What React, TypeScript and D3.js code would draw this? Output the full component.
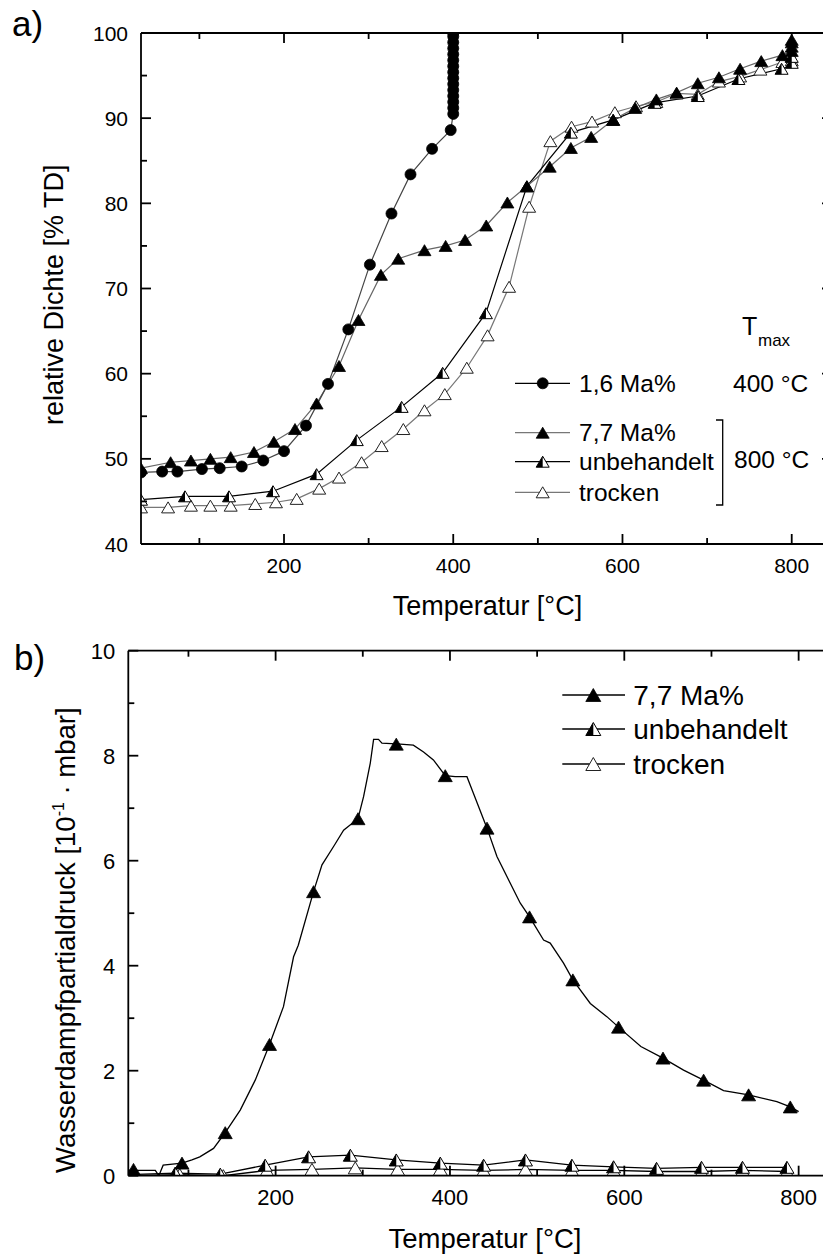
import React from 'react';
import * as d3 from 'd3';

const FONT = '"Liberation Sans", Arial, Helvetica, sans-serif';

type P = [number, number];

// ---------- Panel a: relative density [% TD] vs temperature [°C] ----------
const densMa16: P[] = [
  [31, 48.4], [56, 48.5], [74, 48.5], [103, 48.8], [124, 48.9], [150, 49.1], [175.5, 49.8],
  [200, 50.9], [226, 53.9], [252, 58.8], [276, 65.2], [301.5, 72.8], [327, 78.8], [349.5, 83.4],
  [375, 86.4], [397, 88.6], [400, 90.5], [400, 91.2], [400, 91.9], [400, 92.6], [400, 93.3],
  [400, 94.0], [400, 94.7], [400, 95.4], [400, 96.1], [400, 96.8], [400, 97.5], [400, 98.2],
  [400, 98.9], [400, 99.6], [400, 100],
];
const densMa77: P[] = [
  [31, 48.9], [66, 49.6], [90, 49.8], [113, 50.0], [137, 50.2], [164.5, 50.8], [188, 52.0],
  [213, 53.5], [238.5, 56.5], [265, 60.9], [288, 66.3], [314.5, 71.6], [335, 73.5], [366, 74.5],
  [391, 75.0], [414, 75.7], [439, 77.4], [464, 80.1], [487, 82.0], [514, 84.3], [539, 86.5],
  [563, 87.8], [589, 89.8], [615, 91.2], [640, 92.2], [664, 93.0], [689, 94.1], [714, 94.8],
  [739, 95.8], [764, 96.7], [789, 97.4], [800, 97.9], [800, 98.4], [800, 98.9], [800, 99.2],
];
const densUnbeh: P[] = [
  [31, 45.2], [83, 45.6], [135, 45.6], [187, 46.2], [238.5, 48.2], [286, 52.2], [339, 56.1],
  [387.5, 60.1], [438.6, 67.1], [487, 82.0], [539, 88.3], [589, 89.8], [638, 91.8], [689, 92.6],
  [737, 94.6], [788, 95.8], [800, 96.5], [800, 97.2],
];
const densTrocken: P[] = [
  [31, 44.3], [63, 44.3], [90, 44.5], [113, 44.5], [137, 44.5], [166, 44.7], [190.5, 44.9],
  [215, 45.3], [241.6, 46.5], [265, 47.8], [291.7, 49.6], [315.4, 51.5], [341, 53.5], [366, 55.7],
  [390, 57.6], [416, 60.7], [440.6, 64.5], [466, 70.2], [489.7, 79.6], [514.8, 87.3], [539.8, 89.0],
  [564, 89.6], [591, 90.7], [616, 91.4], [640, 91.9], [664, 92.9], [689, 92.8], [714, 94.3],
  [739, 94.9], [763, 95.7], [789, 96.6], [800, 96.8],
];

// ---------- Panel b: water vapour partial pressure [10^-1 mbar] ----------
const pressMa77Line: P[] = [
  [31, 0.1], [62, 0.1], [66, 0], [71, 0.2], [92.6, 0.24], [104, 0.3], [113, 0.36], [128.8, 0.52],
  [142.2, 0.82], [159.4, 1.25], [176.6, 1.82], [193, 2.5], [209, 3.22], [220.6, 4.17], [226, 4.39],
  [243.5, 5.41], [253.2, 5.92], [266.5, 6.27], [278, 6.58], [294.5, 6.8], [300.9, 7.22],
  [308.6, 7.86], [312.4, 8.31], [318, 8.31], [322, 8.24], [343, 8.22], [358, 8.2], [369.7, 8.07],
  [381, 7.92], [394.6, 7.62], [406, 7.6], [419.5, 7.6], [427, 7.28], [442.5, 6.62], [453.9, 6.08],
  [469.2, 5.57], [480.7, 5.19], [491.3, 4.93], [507.4, 4.49], [515, 4.43], [530.3, 4.05],
  [541, 3.73], [561, 3.28], [580, 3.03], [593.4, 2.83], [619, 2.46], [644.4, 2.24], [668, 2.01],
  [691, 1.82], [713.9, 1.62], [742.6, 1.54], [775, 1.41], [790.4, 1.31], [800, 1.22],
];
const pressMa77Markers: P[] = [
  [37, 0.12], [92.6, 0.24], [142.2, 0.82], [193, 2.5], [243.5, 5.41], [294.5, 6.8], [338.4, 8.22],
  [394.6, 7.62], [442.5, 6.62], [491.3, 4.93], [541, 3.73], [593.4, 2.83], [644.4, 2.24],
  [691, 1.82], [742.6, 1.54], [790.4, 1.31],
];
const pressUnbeh: P[] = [
  [31, 0.02], [84.8, 0.05], [136.5, 0.03], [188, 0.2], [237.8, 0.36], [285.7, 0.39], [338.4, 0.3],
  [388.9, 0.24], [438.6, 0.2], [486.6, 0.3], [539.9, 0.2], [587.7, 0.17], [637, 0.14],
  [688.6, 0.16], [735.6, 0.16], [786.6, 0.16],
];
const pressTrocken: P[] = [
  [31, 0], [90, 0.02], [140, 0.0], [190, 0.1], [241.7, 0.12], [291.4, 0.15], [340, 0.12],
  [389, 0.12], [438.6, 0.1], [486.6, 0.12], [539.9, 0.1], [587.7, 0.1], [637, 0.08],
  [688.6, 0.08], [735.6, 0.1], [786.6, 0.08],
];

// ---------- ticks & labels ----------
const xMajor = [200, 400, 600, 800];
const xMinor = [100, 300, 500, 700];
const yaMajor = [40, 50, 60, 70, 80, 90, 100];
const yaMinor = [45, 55, 65, 75, 85, 95];
const ybMajor = [0, 2, 4, 6, 8, 10];
const ybMinor = [1, 3, 5, 7, 9];

const legendA = ['1,6 Ma%', '7,7 Ma%', 'unbehandelt', 'trocken'];
const legendB = ['7,7 Ma%', 'unbehandelt', 'trocken'];

type MarkerKind = 'circle' | 'triFilled' | 'triHalf' | 'triOpen';

function Marker({ kind, x, y, w, h }: { kind: MarkerKind; x: number; y: number; w: number; h: number }) {
  if (kind === 'circle') {
    return <circle cx={x} cy={y} r={w / 2} fill="#000" stroke="#000" strokeWidth={0.8} />;
  }
  const tri = `M${x},${y - h / 2} L${x - w / 2},${y + h / 2} L${x + w / 2},${y + h / 2} Z`;
  if (kind === 'triFilled') return <path d={tri} fill="#000" stroke="#000" strokeWidth={0.8} />;
  if (kind === 'triOpen') return <path d={tri} fill="#fff" stroke="#222" strokeWidth={1} />;
  const left = `M${x},${y - h / 2} L${x - w / 2},${y + h / 2} L${x},${y + h / 2} Z`;
  return (
    <g>
      <path d={tri} fill="#fff" stroke="#000" strokeWidth={1} />
      <path d={left} fill="#000" stroke="none" />
    </g>
  );
}

function Frame({ x, y, xTicksMajor, xTicksMinor, yTicksMajor, yTicksMinor, left, right, top, bottom, tickFs, labelDx, labelDy, xlabY }: any) {
  const els: any[] = [];
  const sw = 1.8;
  // left, top and bottom axis lines (right axis lies beyond the page edge)
  els.push(<line key="axL" x1={left} x2={left} y1={top} y2={bottom} stroke="#000" strokeWidth={sw} />);
  els.push(<line key="axT" x1={left} x2={right} y1={top} y2={top} stroke="#000" strokeWidth={sw} />);
  els.push(<line key="axB" x1={left} x2={right} y1={bottom} y2={bottom} stroke="#000" strokeWidth={sw} />);
  xTicksMajor.forEach((t: number) => {
    const px = x(t);
    els.push(<line key={'xb' + t} x1={px} x2={px} y1={bottom} y2={bottom - 10} stroke="#000" strokeWidth={sw} />);
    els.push(<line key={'xt' + t} x1={px} x2={px} y1={top} y2={top + 10} stroke="#000" strokeWidth={sw} />);
    els.push(<text key={'xl' + t} x={px} y={xlabY} fontSize={tickFs} textAnchor="middle" fontFamily={FONT}>{t}</text>);
  });
  xTicksMinor.forEach((t: number) => {
    const px = x(t);
    els.push(<line key={'xbm' + t} x1={px} x2={px} y1={bottom} y2={bottom - 6} stroke="#000" strokeWidth={sw} />);
    els.push(<line key={'xtm' + t} x1={px} x2={px} y1={top} y2={top + 6} stroke="#000" strokeWidth={sw} />);
  });
  yTicksMajor.forEach((t: number) => {
    const py = y(t);
    els.push(<line key={'yl' + t} x1={left} x2={left + 10} y1={py} y2={py} stroke="#000" strokeWidth={sw} />);
    els.push(<line key={'yr' + t} x1={right} x2={right - 10} y1={py} y2={py} stroke="#000" strokeWidth={sw} />);
    els.push(<text key={'ylab' + t} x={left - labelDx} y={py + labelDy} fontSize={tickFs} textAnchor="end" fontFamily={FONT}>{t}</text>);
  });
  yTicksMinor.forEach((t: number) => {
    const py = y(t);
    els.push(<line key={'ylm' + t} x1={left} x2={left + 6} y1={py} y2={py} stroke="#000" strokeWidth={sw} />);
  });
  return <g>{els}</g>;
}

export default function App() {
  // ---- panel a scales ----
  const xa = d3.scaleLinear().domain([31, 847.6]).range([141, 832]);
  const ya = d3.scaleLinear().domain([40, 100]).range([544, 33]);
  const la = d3.line<P>().x((d) => xa(d[0])).y((d) => ya(d[1]));
  const aL = 141, aR = 832, aT = 33, aB = 544;

  // ---- panel b scales ----
  const xb = d3.scaleLinear().domain([31, 850]).range([128.3, 128.3 + 819 * 0.8717]);
  const yb = d3.scaleLinear().domain([0, 10]).range([1175.7, 650.7]);
  const lb = d3.line<P>().x((d) => xb(d[0])).y((d) => yb(d[1]));
  const bL = 128.3, bR = xb(850), bT = 650.7, bB = 1175.7;

  const seriesA: { data: P[]; kind: MarkerKind; color: string; w: number; h: number }[] = [
    { data: densTrocken, kind: 'triOpen', color: '#777', w: 13, h: 11 },
    { data: densUnbeh, kind: 'triHalf', color: '#000', w: 13, h: 11 },
    { data: densMa77, kind: 'triFilled', color: '#666', w: 13, h: 11 },
    { data: densMa16, kind: 'circle', color: '#444', w: 11, h: 11 },
  ];

  const seriesB: { line: P[]; markers: P[]; kind: MarkerKind }[] = [
    { line: pressTrocken, markers: pressTrocken, kind: 'triOpen' },
    { line: pressUnbeh, markers: pressUnbeh, kind: 'triHalf' },
    { line: pressMa77Line, markers: pressMa77Markers, kind: 'triFilled' },
  ];

  const legAKinds: MarkerKind[] = ['circle', 'triFilled', 'triHalf', 'triOpen'];
  const legAColors = ['#000', '#777', '#000', '#777'];
  const legAY = [383.3, 432.7, 461.7, 492.3];
  const legBKinds: MarkerKind[] = ['triFilled', 'triHalf', 'triOpen'];
  const legBY = [695, 729, 764];

  return (
    <svg width={823} height={1257} style={{ position: 'absolute', left: 0, top: 0, background: '#fff' }} fontFamily={FONT}>
      <rect x={0} y={0} width={823} height={1257} fill="#fff" />
      <defs>
        <clipPath id="clipA">
          <rect x={aL} y={aT} width={aR - aL} height={aB - aT} />
        </clipPath>
        <clipPath id="clipB">
          <rect x={bL} y={bT} width={bR - bL} height={bB - bT} />
        </clipPath>
      </defs>

      {/* ===== Panel a ===== */}
      <text x={12} y={36} fontSize={35} fontFamily={FONT}>a)</text>
      <g clipPath="url(#clipA)">
        {seriesA.map((s, i) => (
          <path key={'la' + i} d={la(s.data) || ''} fill="none" stroke={s.color} strokeWidth={1.2} />
        ))}
        {seriesA.map((s, i) => (
          <g key={'ma' + i}>
            {s.data.map((d, j) => (
              <Marker key={j} kind={s.kind} x={xa(d[0])} y={ya(d[1])} w={s.w} h={s.h} />
            ))}
          </g>
        ))}
      </g>
      <Frame x={xa} y={ya} xTicksMajor={xMajor} xTicksMinor={xMinor} yTicksMajor={yaMajor} yTicksMinor={yaMinor}
        left={aL} right={aR} top={aT} bottom={aB} tickFs={21} labelDx={13} labelDy={7.5} xlabY={572.5} />
      <text x={487.5} y={615} fontSize={27} textAnchor="middle" fontFamily={FONT}>Temperatur [°C]</text>
      <text transform="translate(62.5,425) rotate(-90)" fontSize={27} textAnchor="start" fontFamily={FONT}>relative Dichte [% TD]</text>

      {/* legend a */}
      <text x={742} y={335} fontSize={25} fontFamily={FONT}>T</text>
      <text x={758} y={346} fontSize={17} fontFamily={FONT}>max</text>
      {legendA.map((lab, i) => (
        <g key={'lga' + i}>
          <line x1={515} x2={570} y1={legAY[i]} y2={legAY[i]} stroke={legAColors[i]} strokeWidth={1.3} />
          <Marker kind={legAKinds[i]} x={542.7} y={legAY[i]} w={legAKinds[i] === 'circle' ? 11 : 13} h={11} />
          <text x={579} y={legAY[i] + 8.5} fontSize={24.5} fontFamily={FONT}>{lab}</text>
        </g>
      ))}
      <text x={733} y={391.5} fontSize={24.5} fontFamily={FONT}>400 °C</text>
      <path d="M716,420 H722.7 V505 H716" fill="none" stroke="#000" strokeWidth={1.3} />
      <text x={734} y={468} fontSize={24.5} fontFamily={FONT}>800 °C</text>

      {/* ===== Panel b ===== */}
      <text x={14} y={670} fontSize={35} fontFamily={FONT}>b)</text>
      <g clipPath="url(#clipB)">
        {seriesB.map((s, i) => (
          <path key={'lb' + i} d={lb(s.line) || ''} fill="none" stroke="#000" strokeWidth={1.3} />
        ))}
        {seriesB.map((s, i) => (
          <g key={'mb' + i}>
            {s.markers.map((d, j) => (
              <Marker key={j} kind={s.kind} x={xb(d[0])} y={yb(d[1])} w={14} h={12} />
            ))}
          </g>
        ))}
      </g>
      <Frame x={xb} y={yb} xTicksMajor={xMajor} xTicksMinor={xMinor} yTicksMajor={ybMajor} yTicksMinor={ybMinor}
        left={bL} right={bR} top={bT} bottom={bB} tickFs={22} labelDx={13} labelDy={8} xlabY={1205} />
      <text x={485} y={1248} fontSize={27.5} textAnchor="middle" fontFamily={FONT}>Temperatur [°C]</text>
      <text transform="translate(74.7,1173) rotate(-90)" fontSize={27.5} textAnchor="start" fontFamily={FONT}>
        Wasserdampfpartialdruck [10<tspan fontSize={16} dy={-11}>-1</tspan><tspan dy={11}> · mbar]</tspan>
      </text>

      {/* legend b */}
      {legendB.map((lab, i) => (
        <g key={'lgb' + i}>
          <line x1={562.3} x2={625} y1={legBY[i]} y2={legBY[i]} stroke="#000" strokeWidth={1.3} />
          <Marker kind={legBKinds[i]} x={593.3} y={legBY[i]} w={15} h={13} />
          <text x={633.3} y={legBY[i] + 9.5} fontSize={28} fontFamily={FONT}>{lab}</text>
        </g>
      ))}
    </svg>
  );
}
